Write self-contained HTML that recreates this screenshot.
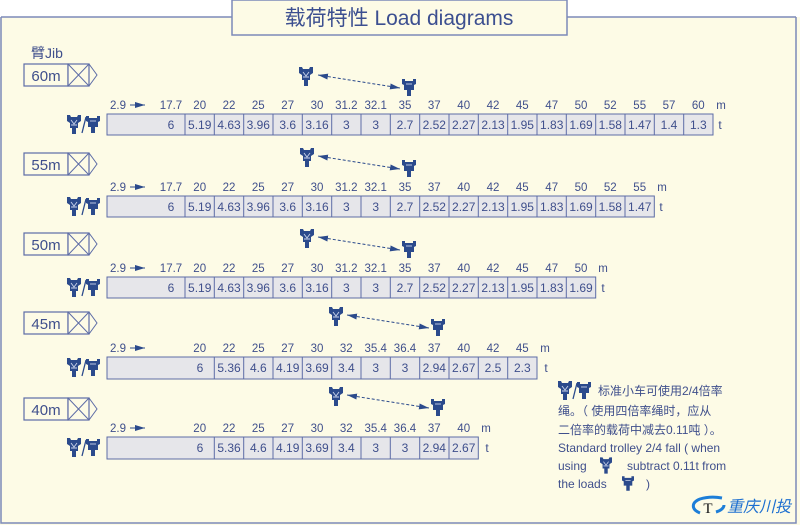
<!DOCTYPE html>
<html><head><meta charset="utf-8"><style>
html,body{margin:0;padding:0;background:#fff;}
svg{display:block;}
text{font-family:"Liberation Sans","Noto Sans CJK SC",sans-serif;fill:#3f4f8c;}
.h{font-size:11.5px;text-anchor:middle;}
.v{font-size:12px;text-anchor:middle;}
.c{fill:#e6e6ea;stroke:#5d6ca6;stroke-width:1;}
.jb{fill:#fdfbe6;stroke:#5d6ca6;stroke-width:1.2;}
.ln{stroke:#5d6ca6;stroke-width:1;fill:none;}
</style></head><body>
<svg width="800" height="525" viewBox="0 0 800 525" xmlns="http://www.w3.org/2000/svg">
<defs>
<symbol id="ta" viewBox="0 0 14 19"><path d="M0,0 L3,0 L4,2 L10,2 L11,0 L14,0 L14,6 L11,8 L11,13 L9,13 L9,19 L5,19 L5,13 L3,13 L3,8 L0,6Z" fill="#2b4a8c"/><path d="M4,5 L7,9 L10,5 M4,10 L10,10" stroke="#c9d3ea" stroke-width="0.9" fill="none"/></symbol>
<symbol id="tb" viewBox="0 0 14 17"><path d="M0,0 L3,0 L3,2 L11,2 L11,0 L14,0 L14,5 L12,6 L12,11 L9,11 L9,17 L5,17 L5,11 L2,11 L2,6 L0,5Z" fill="#2b4a8c"/><path d="M4,5 L10,5" stroke="#c9d3ea" stroke-width="0.9"/></symbol>
<symbol id="jib" viewBox="0 0 76 24"><rect x="1" y="1" width="44" height="22" class="jb"/><rect x="45" y="1" width="21" height="22" class="jb"/><path d="M45,1 L66,23 M66,1 L45,23 M66,1 L74,12 L66,23" class="ln"/></symbol>
<symbol id="ic" viewBox="0 0 34 20"><use href="#ta" x="0" y="0" width="14" height="19"/><path d="M15,18 L19,2" stroke="#2b4a8c" stroke-width="1.3"/><use href="#tb" x="19" y="1" width="14" height="17"/></symbol>
<marker id="al" markerWidth="10" markerHeight="6" refX="0" refY="3" orient="auto" markerUnits="userSpaceOnUse"><path d="M10,0 L0,3 L10,6Z" fill="#2b4a8c"/></marker>
<marker id="ar" markerWidth="10" markerHeight="6" refX="10" refY="3" orient="auto" markerUnits="userSpaceOnUse"><path d="M0,0 L10,3 L0,6Z" fill="#2b4a8c"/></marker>
</defs>
<rect x="0" y="17" width="800" height="508" fill="#fdfbe6"/>
<path d="M1,17 L232,17 M567,17 L796,17 M1,17 L1,523 L796,523 L796,17" stroke="#7d8ab8" stroke-width="1.5" fill="none"/>
<rect x="232" y="0" width="335" height="35" fill="#fdfbe6" stroke="#7d8ab8" stroke-width="1.5"/>
<text x="399" y="25" style="font-size:21px;text-anchor:middle;fill:#3c4f90">载荷特性 Load diagrams</text>
<text x="31" y="58" style="font-size:14px">臂Jib</text>

<!-- Row 1 -->
<use href="#jib" x="23" y="63" width="76" height="24"/><text x="46" y="81" style="font-size:15px;text-anchor:middle">60m</text>
<use href="#ta" x="299" y="67" width="14" height="19"/><use href="#tb" x="402" y="79" width="14" height="17"/>
<path d="M318,75 L400,88" stroke="#2b4a8c" stroke-dasharray="3,2" marker-start="url(#al)" marker-end="url(#ar)"/>
<use href="#ic" x="67" y="115" width="34" height="20"/>
<g transform="translate(0,0)">
<text x="110" y="109" style="font-size:11.5px">2.9</text><path d="M130,105 L145,105" stroke="#2b4a8c" marker-end="url(#ar)"/>
<text class="h" x="171" y="109">17.7</text><text class="h" x="199.7" y="109">20</text><text class="h" x="229" y="109">22</text><text class="h" x="258.3" y="109">25</text><text class="h" x="287.7" y="109">27</text><text class="h" x="317" y="109">30</text><text class="h" x="346.3" y="109">31.2</text><text class="h" x="375.7" y="109">32.1</text><text class="h" x="405" y="109">35</text><text class="h" x="434.3" y="109">37</text><text class="h" x="463.7" y="109">40</text><text class="h" x="493" y="109">42</text><text class="h" x="522.3" y="109">45</text><text class="h" x="551.7" y="109">47</text><text class="h" x="581" y="109">50</text><text class="h" x="610.3" y="109">52</text><text class="h" x="639.7" y="109">55</text><text class="h" x="669" y="109">57</text><text class="h" x="698.3" y="109">60</text><text class="h" x="721" y="109">m</text>
<rect class="c" x="107" y="114" width="606" height="21"/>
<path class="ln" d="M185,114v21M214.3,114v21M243.7,114v21M273,114v21M302.3,114v21M331.7,114v21M361,114v21M390.3,114v21M419.7,114v21M449,114v21M478.3,114v21M507.7,114v21M537,114v21M566.3,114v21M595.7,114v21M625,114v21M654.3,114v21M683.7,114v21"/>
<text class="v" x="171" y="129">6</text><text class="v" x="199.7" y="129">5.19</text><text class="v" x="229" y="129">4.63</text><text class="v" x="258.3" y="129">3.96</text><text class="v" x="287.7" y="129">3.6</text><text class="v" x="317" y="129">3.16</text><text class="v" x="346.3" y="129">3</text><text class="v" x="375.7" y="129">3</text><text class="v" x="405" y="129">2.7</text><text class="v" x="434.3" y="129">2.52</text><text class="v" x="463.7" y="129">2.27</text><text class="v" x="493" y="129">2.13</text><text class="v" x="522.3" y="129">1.95</text><text class="v" x="551.7" y="129">1.83</text><text class="v" x="581" y="129">1.69</text><text class="v" x="610.3" y="129">1.58</text><text class="v" x="639.7" y="129">1.47</text><text class="v" x="669" y="129">1.4</text><text class="v" x="698.3" y="129">1.3</text><text class="v" x="720" y="129">t</text>
</g>

<!-- Row 2 -->
<use href="#jib" x="23" y="152" width="76" height="24"/><text x="46" y="170" style="font-size:15px;text-anchor:middle">55m</text>
<use href="#ta" x="300" y="148" width="14" height="19"/><use href="#tb" x="402" y="160" width="14" height="17"/>
<path d="M318,156 L400,169" stroke="#2b4a8c" stroke-dasharray="3,2" marker-start="url(#al)" marker-end="url(#ar)"/>
<use href="#ic" x="67" y="197" width="34" height="20"/>
<g transform="translate(0,82)">
<text x="110" y="109" style="font-size:11.5px">2.9</text><path d="M130,105 L145,105" stroke="#2b4a8c" marker-end="url(#ar)"/>
<text class="h" x="171" y="109">17.7</text><text class="h" x="199.7" y="109">20</text><text class="h" x="229" y="109">22</text><text class="h" x="258.3" y="109">25</text><text class="h" x="287.7" y="109">27</text><text class="h" x="317" y="109">30</text><text class="h" x="346.3" y="109">31.2</text><text class="h" x="375.7" y="109">32.1</text><text class="h" x="405" y="109">35</text><text class="h" x="434.3" y="109">37</text><text class="h" x="463.7" y="109">40</text><text class="h" x="493" y="109">42</text><text class="h" x="522.3" y="109">45</text><text class="h" x="551.7" y="109">47</text><text class="h" x="581" y="109">50</text><text class="h" x="610.3" y="109">52</text><text class="h" x="639.7" y="109">55</text><text class="h" x="662" y="109">m</text>
<rect class="c" x="107" y="114" width="547.3" height="21"/>
<path class="ln" d="M185,114v21M214.3,114v21M243.7,114v21M273,114v21M302.3,114v21M331.7,114v21M361,114v21M390.3,114v21M419.7,114v21M449,114v21M478.3,114v21M507.7,114v21M537,114v21M566.3,114v21M595.7,114v21M625,114v21"/>
<text class="v" x="171" y="129">6</text><text class="v" x="199.7" y="129">5.19</text><text class="v" x="229" y="129">4.63</text><text class="v" x="258.3" y="129">3.96</text><text class="v" x="287.7" y="129">3.6</text><text class="v" x="317" y="129">3.16</text><text class="v" x="346.3" y="129">3</text><text class="v" x="375.7" y="129">3</text><text class="v" x="405" y="129">2.7</text><text class="v" x="434.3" y="129">2.52</text><text class="v" x="463.7" y="129">2.27</text><text class="v" x="493" y="129">2.13</text><text class="v" x="522.3" y="129">1.95</text><text class="v" x="551.7" y="129">1.83</text><text class="v" x="581" y="129">1.69</text><text class="v" x="610.3" y="129">1.58</text><text class="v" x="639.7" y="129">1.47</text><text class="v" x="661" y="129">t</text>
</g>

<!-- Row 3 -->
<use href="#jib" x="23" y="232" width="76" height="24"/><text x="46" y="250" style="font-size:15px;text-anchor:middle">50m</text>
<use href="#ta" x="300" y="229" width="14" height="19"/><use href="#tb" x="402" y="241" width="14" height="17"/>
<path d="M318,237 L400,250" stroke="#2b4a8c" stroke-dasharray="3,2" marker-start="url(#al)" marker-end="url(#ar)"/>
<use href="#ic" x="67" y="278" width="34" height="20"/>
<g transform="translate(0,163)">
<text x="110" y="109" style="font-size:11.5px">2.9</text><path d="M130,105 L145,105" stroke="#2b4a8c" marker-end="url(#ar)"/>
<text class="h" x="171" y="109">17.7</text><text class="h" x="199.7" y="109">20</text><text class="h" x="229" y="109">22</text><text class="h" x="258.3" y="109">25</text><text class="h" x="287.7" y="109">27</text><text class="h" x="317" y="109">30</text><text class="h" x="346.3" y="109">31.2</text><text class="h" x="375.7" y="109">32.1</text><text class="h" x="405" y="109">35</text><text class="h" x="434.3" y="109">37</text><text class="h" x="463.7" y="109">40</text><text class="h" x="493" y="109">42</text><text class="h" x="522.3" y="109">45</text><text class="h" x="551.7" y="109">47</text><text class="h" x="581" y="109">50</text><text class="h" x="603" y="109">m</text>
<rect class="c" x="107" y="114" width="488.7" height="21"/>
<path class="ln" d="M185,114v21M214.3,114v21M243.7,114v21M273,114v21M302.3,114v21M331.7,114v21M361,114v21M390.3,114v21M419.7,114v21M449,114v21M478.3,114v21M507.7,114v21M537,114v21M566.3,114v21"/>
<text class="v" x="171" y="129">6</text><text class="v" x="199.7" y="129">5.19</text><text class="v" x="229" y="129">4.63</text><text class="v" x="258.3" y="129">3.96</text><text class="v" x="287.7" y="129">3.6</text><text class="v" x="317" y="129">3.16</text><text class="v" x="346.3" y="129">3</text><text class="v" x="375.7" y="129">3</text><text class="v" x="405" y="129">2.7</text><text class="v" x="434.3" y="129">2.52</text><text class="v" x="463.7" y="129">2.27</text><text class="v" x="493" y="129">2.13</text><text class="v" x="522.3" y="129">1.95</text><text class="v" x="551.7" y="129">1.83</text><text class="v" x="581" y="129">1.69</text><text class="v" x="603" y="129">t</text>
</g>

<!-- Row 4 -->
<use href="#jib" x="23" y="311" width="76" height="24"/><text x="46" y="329" style="font-size:15px;text-anchor:middle">45m</text>
<use href="#ta" x="329" y="307" width="14" height="19"/><use href="#tb" x="431" y="319" width="14" height="17"/>
<path d="M347,315 L429,328" stroke="#2b4a8c" stroke-dasharray="3,2" marker-start="url(#al)" marker-end="url(#ar)"/>
<use href="#ic" x="67" y="358" width="34" height="20"/>
<g transform="translate(0,243)">
<text x="110" y="109" style="font-size:11.5px">2.9</text><path d="M130,105 L145,105" stroke="#2b4a8c" marker-end="url(#ar)"/>
<text class="h" x="199.7" y="109">20</text><text class="h" x="229" y="109">22</text><text class="h" x="258.3" y="109">25</text><text class="h" x="287.7" y="109">27</text><text class="h" x="317" y="109">30</text><text class="h" x="346.3" y="109">32</text><text class="h" x="375.7" y="109">35.4</text><text class="h" x="405" y="109">36.4</text><text class="h" x="434.3" y="109">37</text><text class="h" x="463.7" y="109">40</text><text class="h" x="493" y="109">42</text><text class="h" x="522.3" y="109">45</text><text class="h" x="545" y="109">m</text>
<rect class="c" x="107" y="114" width="430" height="22"/>
<path class="ln" d="M214.3,114v22M243.7,114v22M273,114v22M302.3,114v22M331.7,114v22M361,114v22M390.3,114v22M419.7,114v22M449,114v22M478.3,114v22M507.7,114v22"/>
<text class="v" x="200" y="129">6</text><text class="v" x="229" y="129">5.36</text><text class="v" x="258.3" y="129">4.6</text><text class="v" x="287.7" y="129">4.19</text><text class="v" x="317" y="129">3.69</text><text class="v" x="346.3" y="129">3.4</text><text class="v" x="375.7" y="129">3</text><text class="v" x="405" y="129">3</text><text class="v" x="434.3" y="129">2.94</text><text class="v" x="463.7" y="129">2.67</text><text class="v" x="493" y="129">2.5</text><text class="v" x="522.3" y="129">2.3</text><text class="v" x="546" y="129">t</text>
</g>

<!-- Row 5 -->
<use href="#jib" x="23" y="397" width="76" height="24"/><text x="46" y="415" style="font-size:15px;text-anchor:middle">40m</text>
<use href="#ta" x="329" y="387" width="14" height="19"/><use href="#tb" x="431" y="399" width="14" height="17"/>
<path d="M347,395 L429,408" stroke="#2b4a8c" stroke-dasharray="3,2" marker-start="url(#al)" marker-end="url(#ar)"/>
<use href="#ic" x="67" y="438" width="34" height="20"/>
<g transform="translate(0,323)">
<text x="110" y="109" style="font-size:11.5px">2.9</text><path d="M130,105 L145,105" stroke="#2b4a8c" marker-end="url(#ar)"/>
<text class="h" x="199.7" y="109">20</text><text class="h" x="229" y="109">22</text><text class="h" x="258.3" y="109">25</text><text class="h" x="287.7" y="109">27</text><text class="h" x="317" y="109">30</text><text class="h" x="346.3" y="109">32</text><text class="h" x="375.7" y="109">35.4</text><text class="h" x="405" y="109">36.4</text><text class="h" x="434.3" y="109">37</text><text class="h" x="463.7" y="109">40</text><text class="h" x="486" y="109">m</text>
<rect class="c" x="107" y="114" width="371.3" height="22"/>
<path class="ln" d="M214.3,114v22M243.7,114v22M273,114v22M302.3,114v22M331.7,114v22M361,114v22M390.3,114v22M419.7,114v22M449,114v22"/>
<text class="v" x="200" y="129">6</text><text class="v" x="229" y="129">5.36</text><text class="v" x="258.3" y="129">4.6</text><text class="v" x="287.7" y="129">4.19</text><text class="v" x="317" y="129">3.69</text><text class="v" x="346.3" y="129">3.4</text><text class="v" x="375.7" y="129">3</text><text class="v" x="405" y="129">3</text><text class="v" x="434.3" y="129">2.94</text><text class="v" x="463.7" y="129">2.67</text><text class="v" x="487" y="129">t</text>
</g>

<!-- Legend -->
<use href="#ic" x="558" y="381" width="34" height="20"/>
<g style="font-size:12px">
<text x="598" y="395" style="font-size:12px">标准小车可使用2/4倍率</text>
<text x="558" y="415" style="font-size:12px">绳。（ 使用四倍率绳时，应从</text>
<text x="558" y="434" style="font-size:12px">二倍率的载荷中减去0.11吨 ）。</text>
<text x="558" y="452" style="font-size:12px">Standard trolley 2/4 fall ( when</text>
<text x="558" y="470" style="font-size:12px">using</text>
<use href="#ta" x="600" y="457" width="12" height="17"/>
<text x="627" y="470" style="font-size:12px">subtract  0.11t  from</text>
<text x="558" y="488" style="font-size:12px">the loads</text>
<use href="#tb" x="622" y="476" width="12" height="15"/>
<text x="646" y="488" style="font-size:12px">)</text>
</g>
<!-- Logo -->
<path d="M700,513 A18,9 0 0 1 700,499 A22,9 0 0 1 722,498" stroke="#1d7ed8" stroke-width="3" fill="none"/>
<path d="M716,512 A16,8 0 0 0 724,505" stroke="#1d7ed8" stroke-width="3" fill="none"/>
<text x="708" y="513" style="font-family:'Liberation Serif',serif;font-size:15px;fill:#111;text-anchor:middle">T</text>
<text x="727" y="512" style="font-size:16px;font-style:italic;fill:#1d6fd0">重庆川投</text>
</svg>
</body></html>
